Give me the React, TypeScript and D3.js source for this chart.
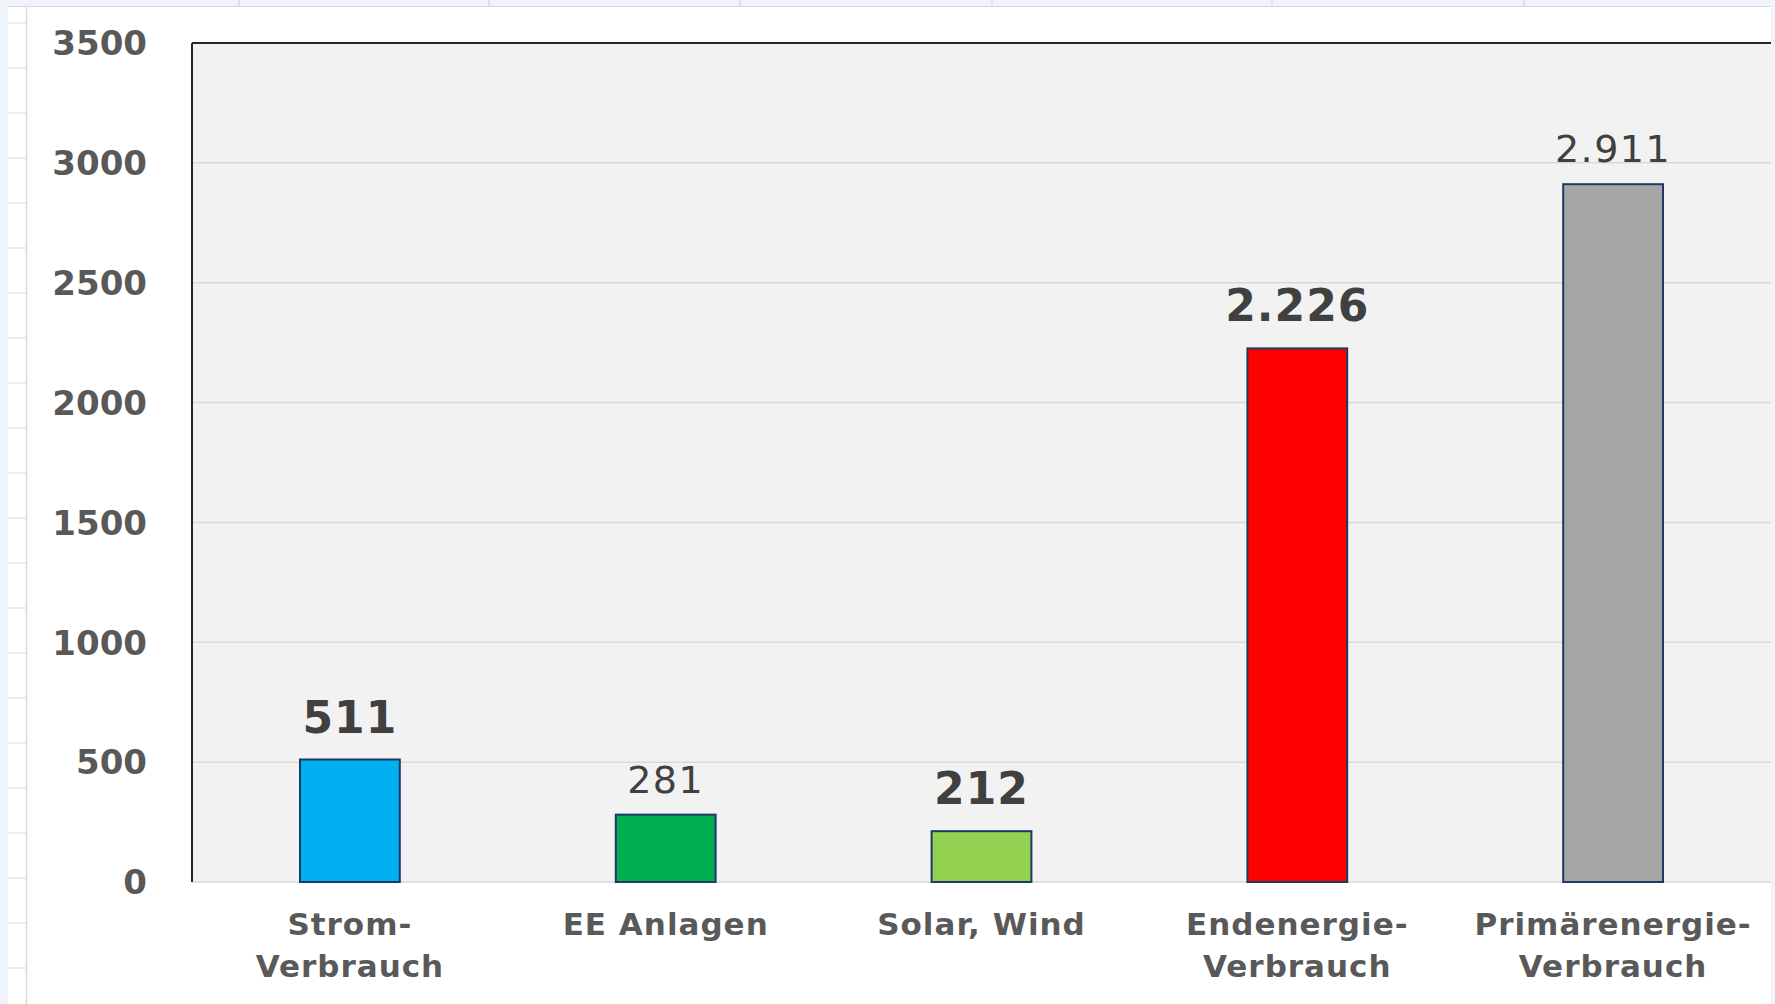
import React from 'react';
import * as d3 from 'd3';

const categories = [['Strom-', 'Verbrauch'], ['EE Anlagen'], ['Solar, Wind'], ['Endenergie-', 'Verbrauch'], ['Primärenergie-', 'Verbrauch']];
const values = [511, 281, 212, 2226, 2911];
const barColors = ['#00b0f0', '#00b050', '#92d050', '#ff0000', '#a6a6a6'];
const boldLabels = [true, false, true, true, false];
const yTicks = [0, 500, 1000, 1500, 2000, 2500, 3000, 3500];

const W = 1775;
const H = 1004;
const plot = { left: 192, right: 1771, top: 43, bottom: 882 };

const de = d3.formatLocale({ decimal: ',', thousands: '.', grouping: [3], currency: ['', '€'] });
const fmt = de.format(',d');

const App = () => {
  const xScale = d3.scaleBand<number>()
    .domain(values.map((_, i) => i))
    .range([plot.left, plot.right])
    .paddingInner(0.684)
    .paddingOuter(0.342);

  const yScale = d3.scaleLinear()
    .domain([0, 3500])
    .range([plot.bottom, plot.top]);

  // spreadsheet row lines on the left edge
  const rulerRows = d3.range(23, H, 45);
  const topCols = [239, 489, 740, 992, 1272, 1524];

  return (
    <div style={{ position: 'fixed', left: 0, top: 0 }}>
      <svg width={W} height={H} viewBox={`0 0 ${W} ${H}`} style={{ display: 'block' }}>
        <rect x={0} y={0} width={W} height={H} fill="#eef4fa" />
        <rect x={8} y={7} width={plot.right - 8} height={H - 7} fill="#ffffff" />
        <line x1={8} x2={plot.right} y1={6.5} y2={6.5} stroke="#d9d9d9" />
        {topCols.map((x) => (
          <line key={x} x1={x} x2={x} y1={0} y2={6} stroke="#d0d0d0" />
        ))}
        {rulerRows.map((y) => (
          <line key={y} x1={8} x2={26} y1={y} y2={y} stroke="#d9d9d9" />
        ))}
        <line x1={26.5} x2={26.5} y1={7} y2={H} stroke="#d9d9d9" strokeWidth={1.5} />

        {/* plot area */}
        <rect x={plot.left} y={plot.top} width={plot.right - plot.left} height={plot.bottom - plot.top} fill="#f2f2f2" />
        {yTicks.map((t) => (
          <line key={t} x1={plot.left} x2={plot.right} y1={yScale(t)} y2={yScale(t)} stroke="#d9d9d9" strokeWidth={1.5} />
        ))}
        <line x1={plot.left} x2={plot.right} y1={plot.top} y2={plot.top} stroke="#262626" strokeWidth={2} />
        <line x1={plot.left} x2={plot.left} y1={plot.top} y2={plot.bottom} stroke="#262626" strokeWidth={2} />

        {yTicks.map((t) => (
          <text key={t} x={147} y={yScale(t)} dy="0.36em" textAnchor="end"
            fontFamily="DejaVu Sans" fontWeight="bold" fontSize={34} fill="#595959">
            {t}
          </text>
        ))}

        {values.map((v, i) => (
          <rect key={i} x={xScale(i)} y={yScale(v)} width={xScale.bandwidth()} height={yScale(0) - yScale(v)}
            fill={barColors[i]} stroke="#1f3864" strokeWidth={2} />
        ))}

        {values.map((v, i) => (
          <text key={i} x={(xScale(i) ?? 0) + xScale.bandwidth() / 2} y={yScale(v) - (boldLabels[i] ? 27 : 22)}
            textAnchor="middle" fontFamily="DejaVu Sans" fontWeight={boldLabels[i] ? 'bold' : 'normal'}
            fontSize={boldLabels[i] ? 44 : 38} letterSpacing={boldLabels[i] ? 1 : 1.5} fill="#404040">
            {fmt(v)}
          </text>
        ))}

        {categories.map((lines, i) => (
          <text key={i} x={(xScale(i) ?? 0) + xScale.bandwidth() / 2} y={935} textAnchor="middle"
            fontFamily="DejaVu Sans" fontWeight="bold" fontSize={31} letterSpacing={1} fill="#595959">
            {lines.map((l, j) => (
              <tspan key={j} x={(xScale(i) ?? 0) + xScale.bandwidth() / 2} dy={j === 0 ? 0 : 42}>{l}</tspan>
            ))}
          </text>
        ))}
      </svg>
    </div>
  );
};

export default App;
